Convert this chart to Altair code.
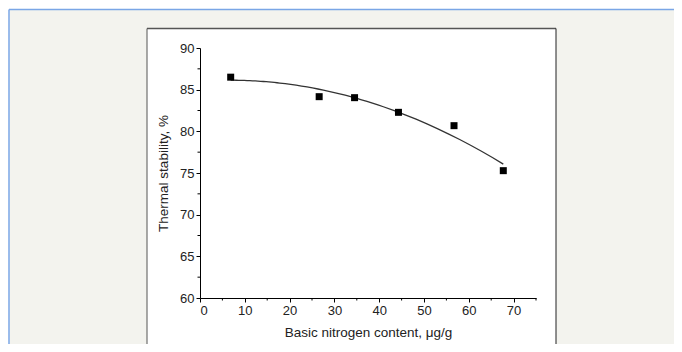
import altair as alt
import pandas as pd

# data
nitrogen = [6.85, 26.6, 34.5, 44.3, 56.7, 67.7]
stability = [86.5, 84.16, 84.04, 82.28, 80.68, 75.28]

x_major = [0, 10, 20, 30, 40, 50, 60, 70]
x_minor = [5, 15, 25, 35, 45, 55, 65, 75]
y_major = [60, 65, 70, 75, 80, 85, 90]
y_minor = [62.5, 67.5, 72.5, 77.5, 82.5, 87.5]

df = pd.DataFrame({"x": nitrogen, "y": stability})
deco = pd.DataFrame({"a": [0]})

FONT = "Liberation Sans"
BEIGE = "#f3f3ee"
BLUE = "#7aa6e6"

x_scale = alt.Scale(domain=[0, 75], nice=False, zero=False)
y_scale = alt.Scale(domain=[60, 90], nice=False, zero=False)

x_enc = alt.X(
    "x:Q",
    scale=x_scale,
    title="Basic nitrogen content, \u03bcg/g",
    axis=alt.Axis(values=x_major, titlePadding=8, zindex=1),
)
y_enc = alt.Y(
    "y:Q",
    scale=y_scale,
    title="Thermal stability, %",
    axis=alt.Axis(values=y_major, titlePadding=9, zindex=1),
)


def strip(x0, x1, y0, y1):
    return alt.Chart(deco).mark_rect(fill=BEIGE, strokeWidth=0).encode(
        x=alt.value(x0), x2=alt.value(x1), y=alt.value(y0), y2=alt.value(y1)
    )


def line(x0, x1, y0, y1, color, w):
    return alt.Chart(deco).mark_rule(color=color, strokeWidth=w).encode(
        x=alt.value(x0), x2=alt.value(x1), y=alt.value(y0), y2=alt.value(y1)
    )


# page decorations (frame of the figure on the web page)
deco_layers = [
    strip(-190.5, -53, -38.5, 300),
    strip(356, 480, -38.5, 300),
    strip(-53, 356, -38.5, -19),
    line(-191, 480, -38.5, -38.5, BLUE, 1.5),
    line(-191, -191, -38.5, 300, BLUE, 1.5),
    line(-53, 356, -19.5, -19.5, "#555555", 1.5),
    line(-53, -53, -19.5, 300, "#555555", 1),
    line(356, 356, -19.5, 300, "#222222", 1),
]

# minor ticks
xm = alt.Chart(pd.DataFrame({"x": x_minor})).mark_rule(color="black", strokeWidth=1).encode(
    x=x_enc, y=alt.value(250), y2=alt.value(252.5)
)
ym = alt.Chart(pd.DataFrame({"y": y_minor})).mark_rule(color="black", strokeWidth=1).encode(
    y=y_enc, x=alt.value(-2.5), x2=alt.value(0)
)

fit = (
    alt.Chart(df)
    .transform_regression("x", "y", method="poly", order=2, extent=[6.85, 67.7])
    .mark_line(color="#333333", strokeWidth=1.3)
    .encode(x=x_enc, y=y_enc)
)
pts = alt.Chart(df).mark_square(size=49, color="black", opacity=1).encode(x=x_enc, y=y_enc)

chart = (
    alt.layer(*deco_layers, fit, pts, xm, ym)
    .properties(
        width=336,
        height=250,
        padding={"left": 192, "top": 40, "right": 138, "bottom": 46},
        autosize=alt.AutoSizeParams(type="none"),
        background="white",
    )
    .configure_view(stroke=None)
    .configure_axis(
        grid=False,
        domainColor="black",
        domainWidth=1,
        tickColor="black",
        tickWidth=1,
        tickSize=4,
        labelFont=FONT,
        labelFontSize=13,
        labelColor="#222222",
        labelPadding=2,
        titleFont=FONT,
        titleFontSize=13.5,
        titleFontWeight="normal",
        titleColor="#222222",
    )
)

chart.save("out.html", embed_options={"renderer": "svg", "actions": False})
